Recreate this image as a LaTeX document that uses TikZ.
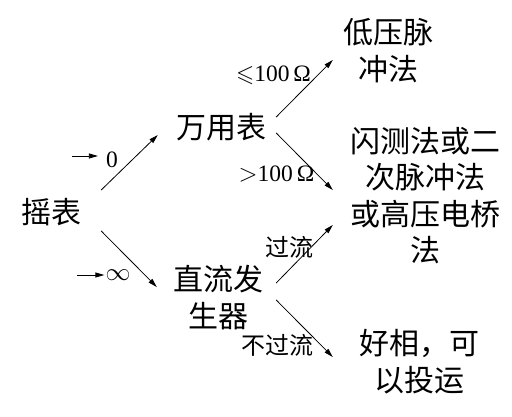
\documentclass[tikz,border=0pt]{standalone}
\usepackage{amsmath}
\usepackage{amssymb}
\usepackage{fontspec}
\newfontfamily\cjk{Noto Sans CJK SC}
\newfontfamily\numf{Liberation Serif}
\usepackage{tikz}
\usetikzlibrary{arrows.meta, positioning}

\tikzset{
  big/.style={font=\cjk\fontsize{30}{36.5}\selectfont, inner sep=0pt, align=center},
  lab/.style={font=\cjk\fontsize{24}{28}\selectfont, inner sep=0pt},
  num/.style={font=\numf\fontsize{23.5}{28}\selectfont, inner sep=0pt},
  arr/.style={-{Triangle[length=9pt,width=5pt]}, line width=0.8pt},
}

\begin{document}
\begin{tikzpicture}[x=1pt, y=-1pt]
                \useasboundingbox (0,0) rectangle (512,417);
                \node[big] (yb) at (51,212) {摇表};
                \node[big] (wyb) at (221,127) {万用表};
                \node[big] (zl) at (218.5,297.5) {直流发\\生器};
                \node[big] (dy) at (388,50.5) {低压脉\\冲法};
                \node[big] (sc) at (425,195.5) {闪测法或二\\次脉冲法\\或高压电桥\\法};
                \node[big] (hx) at (419,361.5) {好相，可\\以投运};
                \node[num] (le) at (273.5,75.5) {$\leqslant$100\,Ω};
                \node[num] (gt) at (276.5,174) {$>$100\,Ω};
                \node[lab] (gl) at (289,247) {过流};
                \node[lab] (bgl) at (277.5,345) {不过流};
                \node[num] (z0) at (112,159.5) {0};
                \node[num] (inf) at (118,275) {$\infty$};
                \coordinate (a0) at (72,156);
                \coordinate (ainf) at (77,275);
                \path[arr]
                (a0) edge ([shift={(-8,-3.5)}]z0.west)
                (ainf) edge ([xshift=-1pt]inf.west)
                ([shift={(20,-22)}]yb.east) edge ([shift={(-18,8)}]wyb.west)
                ([shift={(20,19)}]yb.east) edge ([shift={(-16.5,-10.5)}]zl.west)
                ([shift={(10,-10)}]wyb.east) edge ([shift={(-10,9.5)}]dy.west)
                ([shift={(10,6)}]wyb.east) edge ([shift={(-17,-5.5)}]sc.west)
                ([shift={(12.5,-14.5)}]zl.east) edge ([shift={(-17,29.5)}]sc.west)
                ([shift={(12.5,2.5)}]zl.east) edge ([shift={(-26,-4.5)}]hx.west);
        \end{tikzpicture}
\end{document}
